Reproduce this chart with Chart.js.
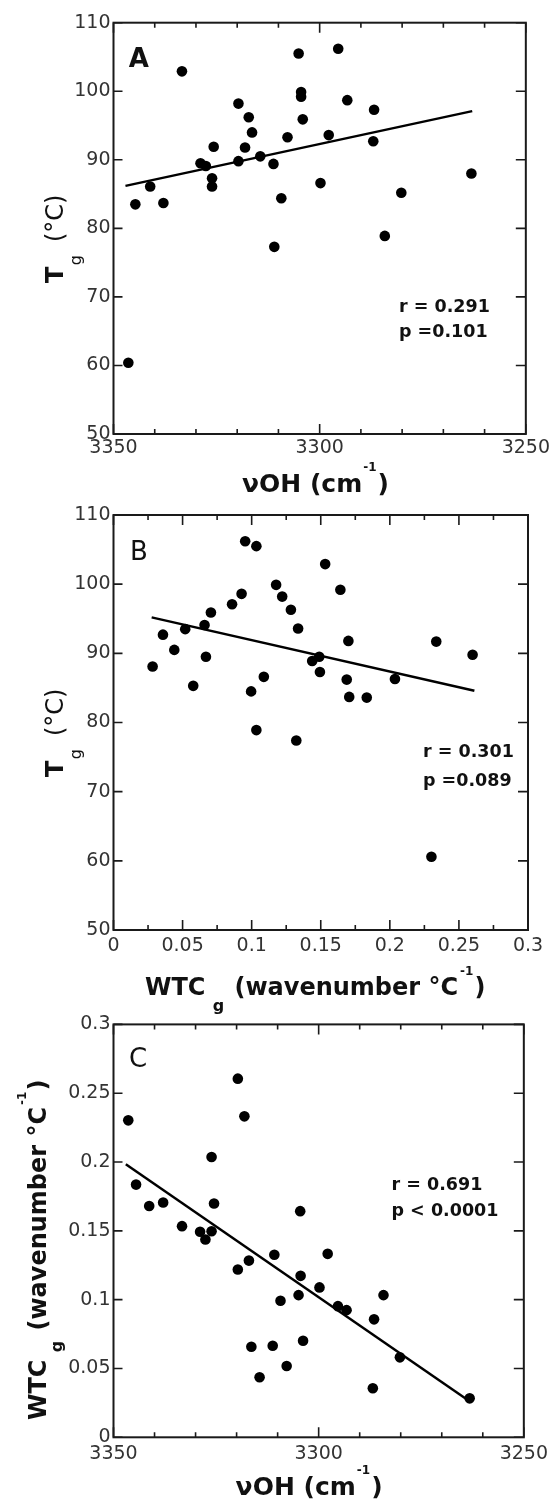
<!DOCTYPE html>
<html>
<head>
<meta charset="utf-8">
<script src="https://cdn.jsdelivr.net/npm/chart.js@4.4.1/dist/chart.umd.min.js"></script>
<style>
  html, body { margin: 0; padding: 0; background: #fff; }
  #wrap { position: relative; width: 553px; height: 1501px; overflow: hidden; background: #fff; }
  canvas { position: absolute; left: 0; }
</style>
</head>
<body>
<div id="wrap">
  <canvas id="chartA" width="553" height="505" style="top:0"></canvas>
  <canvas id="chartB" width="553" height="525" style="top:500px"></canvas>
  <canvas id="chartC" width="553" height="491" style="top:1010px"></canvas>
</div>
<script>
// Panel A: Tg vs vOH
const aOH = [3346.4, 3344.7, 3341.1, 3337.9, 3333.4, 3328.9, 3327.6, 3326.1, 3326.1, 3325.7,
  3319.7, 3319.7, 3318.1, 3317.2, 3316.4, 3314.4, 3311.2, 3311.0, 3309.3, 3307.8,
  3305.1, 3304.5, 3304.5, 3304.1, 3299.8, 3297.8, 3295.5, 3293.3, 3286.8, 3287.0,
  3284.2, 3280.2, 3263.2];
const aTg = [60.4, 83.5, 86.1, 83.7, 102.9, 89.5, 89.1, 87.3, 86.1, 91.9,
  98.2, 89.8, 91.8, 96.2, 94.0, 90.5, 89.4, 77.3, 84.4, 93.3,
  105.5, 99.9, 99.2, 95.9, 86.6, 93.6, 106.2, 98.7, 97.3, 92.7,
  78.9, 85.2, 88.0];
const aFitX = [3347.1, 3263.0];
const aFitY = [86.2, 97.1];

// Panel B: Tg vs WTCg
const bWTC = [0.0283, 0.0358, 0.0440, 0.0519, 0.0577, 0.0659, 0.0669, 0.0705, 0.0858, 0.0927,
  0.0953, 0.0996, 0.1034, 0.1034, 0.1088, 0.1177, 0.1221, 0.1284, 0.1323, 0.1336,
  0.1438, 0.1489, 0.1494, 0.1532, 0.1642, 0.1688, 0.1700, 0.1706, 0.1833, 0.2037,
  0.2336, 0.2599, 0.2301];
const bTg = [88.1, 92.7, 90.5, 93.5, 85.3, 94.1, 89.5, 95.9, 97.1, 98.6,
  106.2, 84.5, 105.5, 78.9, 86.6, 99.9, 98.2, 96.3, 77.4, 93.6,
  88.9, 89.5, 87.3, 102.9, 99.2, 86.2, 91.8, 83.7, 83.6, 86.3,
  91.7, 89.8, 60.6];
const bFitX = [0.0276, 0.2612];
const bFitY = [95.2, 84.6];

// Panel C: WTCg vs vOH
const cOH = [3346.4, 3344.5, 3341.3, 3337.9, 3333.3, 3328.9, 3327.6, 3326.1, 3326.1, 3325.5,
  3319.7, 3318.1, 3317.0, 3310.8, 3297.8, 3304.5, 3319.7, 3304.4, 3304.9, 3309.3,
  3299.8, 3295.3, 3293.2, 3286.5, 3284.2, 3280.2, 3286.8, 3263.2, 3303.8, 3316.4,
  3311.2, 3307.8, 3314.4];
const cWTC = [0.2303, 0.1836, 0.1681, 0.1706, 0.1534, 0.1493, 0.1437, 0.1497, 0.2037, 0.1699,
  0.2606, 0.2332, 0.1284, 0.1326, 0.1333, 0.1643, 0.1219, 0.1173, 0.1033, 0.0992,
  0.1089, 0.0953, 0.0924, 0.0857, 0.1033, 0.0581, 0.0356, 0.0283, 0.0701, 0.0658,
  0.0665, 0.0518, 0.0436];
const cFitX = [3347.0, 3263.4];
const cFitY = [0.1984, 0.0266];

const FONT = '"DejaVu Sans", sans-serif';
const b = s => `bold ${s}px ${FONT}`;
const r = s => `${s}px ${FONT}`;
const pts = (xs, ys) => xs.map((v, i) => ({ x: v, y: ys[i] }));
const num = v => String(Math.round(v * 1000) / 1000);

function drawRun(ctx, x, y, pieces, rotate) {
  ctx.save();
  ctx.translate(x, y);
  if (rotate) ctx.rotate(-Math.PI / 2);
  ctx.textAlign = 'left';
  ctx.textBaseline = 'alphabetic';
  ctx.fillStyle = '#111';
  let pos = 0;
  for (const p of pieces) {
    ctx.font = p.font;
    pos += p.gap || 0;
    ctx.fillText(p.text, pos, p.dy || 0);
    pos += ctx.measureText(p.text).width;
  }
  ctx.restore();
}

// frame, inward ticks on all four sides, and the free text
const decor = {
  id: 'decor',
  afterDraw(chart, args, opts) {
    const { ctx, chartArea: a, scales: { x, y } } = chart;
    ctx.save();
    ctx.strokeStyle = '#1a1a1a';
    ctx.lineWidth = 1.6;
    ctx.beginPath();
    const n = Math.round((x.max - x.min) / opts.xMinor);
    for (let i = 0; i <= n; i++) {
      const v = x.min + i * opts.xMinor;
      const px = x.getPixelForValue(v);
      const q = v / opts.xMajor;
      const len = Math.abs(q - Math.round(q)) < 1e-6 ? 10 : 5;
      ctx.moveTo(px, a.bottom); ctx.lineTo(px, a.bottom - len);
      ctx.moveTo(px, a.top); ctx.lineTo(px, a.top + len);
    }
    y.ticks.forEach(t => {
      const py = y.getPixelForValue(t.value);
      ctx.moveTo(a.left, py); ctx.lineTo(a.left + 9, py);
      ctx.moveTo(a.right, py); ctx.lineTo(a.right - 10, py);
    });
    ctx.stroke();
    ctx.lineWidth = 2;
    ctx.strokeRect(a.left, a.top, a.right - a.left, a.bottom - a.top);
    ctx.restore();
    opts.texts.forEach(t => drawRun(ctx, t.x, t.y, t.pieces, t.rotate));
  }
};

function createScatterPanel(id, cfg) {
  return new Chart(document.getElementById(id), {
    type: 'scatter',
    data: {
      datasets: [
        { data: cfg.points, pointRadius: 5.3, pointBackgroundColor: '#000', pointBorderWidth: 0 },
        { data: cfg.fit, showLine: true, pointRadius: 0, borderColor: '#000', borderWidth: 2.5 }
      ]
    },
    options: {
      responsive: false,
      animation: false,
      layout: { padding: { left: 0, right: 25, top: cfg.top, bottom: cfg.bottom } },
      plugins: { legend: { display: false }, tooltip: { enabled: false }, decor: cfg.decor },
      scales: {
        x: {
          min: cfg.x.min, max: cfg.x.max, reverse: !!cfg.x.reverse,
          grid: { display: false, drawTicks: false }, border: { display: false },
          ticks: { stepSize: cfg.x.step, callback: num, color: '#333', padding: cfg.x.pad,
                   font: { family: FONT, size: 19 }, maxRotation: 0, autoSkip: false },
          afterFit: s => { s.height = 30; }
        },
        y: {
          min: cfg.y.min, max: cfg.y.max,
          grid: { display: false, drawTicks: false }, border: { display: false },
          ticks: { stepSize: cfg.y.step, callback: num, color: '#333', padding: 3,
                   font: { family: FONT, size: 19 } },
          afterFit: s => { s.width = 113.5; }
        }
      }
    },
    plugins: [decor]
  });
}

const tgTitle = [
  { text: 'T', font: b(24) },
  { text: 'g', font: r(16), dy: 17.7, gap: 1.5 },
  { text: '(°C)', font: r(24), gap: 12.9 }
];
const ohTitle = [
  { text: 'νOH (cm', font: b(25) },
  { text: '-1', font: b(12), dy: -21, gap: 1 },
  { text: ')', font: b(25), gap: 1 }
];
const wtcTitle = [
  { text: 'WTC', font: b(24) },
  { text: 'g', font: b(16), dy: 16, gap: 7.3 },
  { text: '(wavenumber °C', font: b(24), gap: 10.2 },
  { text: '-1', font: b(12), dy: -20, gap: 2 },
  { text: ')', font: b(24), gap: 1 }
];

createScatterPanel('chartA', {
  points: pts(aOH, aTg), fit: pts(aFitX, aFitY),
  top: 22.7, bottom: 505 - 434 - 30,
  x: { min: 3250, max: 3350, step: 50, reverse: true, pad: 3 },
  y: { min: 50, max: 110, step: 10 },
  decor: { xMinor: 10, xMajor: 50, texts: [
    { x: 128.7, y: 67, pieces: [{ text: 'A', font: b(26) }] },
    { x: 399, y: 312, pieces: [{ text: 'r = 0.291', font: b(17.5) }] },
    { x: 399, y: 337, pieces: [{ text: 'p =0.101', font: b(17.5) }] },
    { x: 242, y: 492, pieces: ohTitle },
    { x: 63, y: 283, pieces: tgTitle, rotate: true }
  ] }
});

createScatterPanel('chartB', {
  points: pts(bWTC, bTg), fit: pts(bFitX, bFitY),
  top: 15, bottom: 525 - 430 - 30,
  x: { min: 0, max: 0.3, step: 0.05, pad: 5 },
  y: { min: 50, max: 110, step: 10 },
  decor: { xMinor: 0.025, xMajor: 0.05, texts: [
    { x: 130, y: 60, pieces: [{ text: 'B', font: r(26) }] },
    { x: 423, y: 257, pieces: [{ text: 'r = 0.301', font: b(17.5) }] },
    { x: 423, y: 286, pieces: [{ text: 'p =0.089', font: b(17.5) }] },
    { x: 145, y: 495, pieces: wtcTitle },
    { x: 63, y: 277, pieces: tgTitle, rotate: true }
  ] }
});

createScatterPanel('chartC', {
  points: pts(cOH, cWTC), fit: pts(cFitX, cFitY),
  top: 14, bottom: 491 - 427.3 - 30,
  x: { min: 3250, max: 3350, step: 50, reverse: true, pad: 5 },
  y: { min: 0, max: 0.3, step: 0.05 },
  decor: { xMinor: 10, xMajor: 50, texts: [
    { x: 129, y: 57, pieces: [{ text: 'C', font: r(26) }] },
    { x: 391.5, y: 180, pieces: [{ text: 'r = 0.691', font: b(17.5) }] },
    { x: 391.5, y: 206, pieces: [{ text: 'p < 0.0001', font: b(17.5) }] },
    { x: 235.6, y: 485, pieces: ohTitle },
    { x: 46, y: 410, pieces: wtcTitle, rotate: true }
  ] }
});
</script>
</body>
</html>
